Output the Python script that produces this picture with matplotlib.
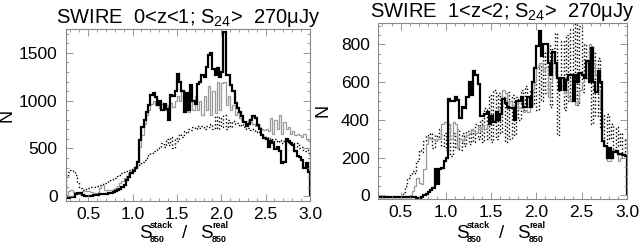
import numpy as np
import matplotlib
matplotlib.use("Agg")
import matplotlib.pyplot as plt
from matplotlib.ticker import MultipleLocator

# bins of 0.025 from 0.25 to 3.0 (110 bins)
edges = np.round(np.arange(0.25, 3.0001, 0.025), 3)

# ---- panel 1: 0<z<1 ----
z01_black = [
    -15, -15, -10, -5, 20, 35, 35, 10, 5, 5,
    5, 5, 10, 15, 15, 20, 20, 20, 25, 35,
    35, 40, 50, 60, 80, 95, 120, 170, 200, 240,
    260, 300, 360, 590, 720, 800, 880, 950, 1060, 1080,
    1040, 950, 1000, 900, 960, 910, 800, 1060, 1050, 1100,
    1280, 1200, 1100, 880, 1080, 900, 1160, 1000, 960, 1170,
    1200, 1270, 1250, 1350, 1480, 1500, 1330, 1270, 1340, 1250,
    1300, 1720, 1270, 1270, 1160, 1100, 980, 920, 880, 840,
    780, 740, 760, 800, 840, 820, 750, 700, 640, 610,
    600, 510, 580, 560, 490, 520, 470, 350, 360, 600,
    580, 560, 540, 470, 420, 410, 380, 300, 350, 250,
]
z01_gray = [
    15, 50, 70, 40, 30, 20, 20, 50, 55, 50,
    50, 40, 35, 35, 35, 90, 120, 70, 70, 70,
    70, 80, 90, 105, 140, 160, 190, 210, 240, 260,
    270, 320, 370, 520, 640, 760, 850, 900, 960, 1000,
    950, 970, 920, 960, 900, 950, 880, 980, 930, 1000,
    1050, 1000, 1100, 950, 1050, 880, 1000, 900, 1050, 900,
    1000, 850, 1050, 900, 1150, 850, 1100, 870, 1200, 900,
    1180, 1200, 950, 1050, 900, 950, 850, 880, 820, 800,
    780, 760, 800, 780, 760, 740, 760, 720, 700, 690,
    700, 680, 820, 650, 800, 700, 850, 650, 780, 700,
    720, 650, 680, 640, 650, 640, 620, 650, 600, 580,
]
z01_dot = [
    200, 250, 270, 260, 220, 150, 90, 70, 80, 85,
    90, 95, 100, 105, 110, 120, 130, 140, 150, 160,
    170, 180, 190, 210, 220, 240, 250, 260, 270, 290,
    300, 310, 330, 340, 360, 380, 400, 430, 450, 470,
    480, 500, 510, 560, 520, 600, 540, 620, 500, 610,
    580, 650, 620, 680, 660, 700, 690, 720, 700, 730,
    710, 730, 700, 740, 720, 760, 700, 840, 700, 830,
    720, 850, 700, 800, 720, 790, 760, 770, 740, 760,
    720, 700, 710, 690, 700, 670, 680, 650, 640, 620,
    620, 600, 610, 580, 600, 570, 590, 560, 580, 560,
    570, 540, 560, 520, 560, 500, 520, 470, 500, 450,
]

# ---- panel 2: 1<z<2 ----
z12_black = [
    -12, -12, -12, -12, -12, -12, -12, -12, -12, -12,
    -12, -12, -12, -10, -10, -10, -8, -15, -20, -10,
    0, 5, 15, 30, 40, 140, 60, 140, 145, 180,
    200, 510, 500, 500, 520, 505, 410, 470, 460, 520,
    600, 530, 660, 640, 590, 420, 420, 430, 440, 380,
    420, 390, 440, 400, 430, 510, 490, 470, 465, 460,
    400, 500, 500, 520, 470, 470, 520, 470, 600, 675,
    790, 870, 740, 800, 800, 700, 640, 760, 700, 620,
    560, 620, 560, 612, 640, 640, 500, 640, 600, 650,
    640, 620, 710, 600, 780, 600, 550, 660, 600, 290,
    260, 200, 250, 200, 230, 235, 220, 220, 215, 210,
]
z12_gray = [
    -12, -12, -12, -12, -12, -12, -12, -12, -12, -12,
    -12, -12, -10, -10, 0, 20, 50, 90, 65, 60,
    140, 270, 310, 300, 300, 290, 300, 300, 380, 390,
    390, 380, 300, 390, 380, 250, 300, 290, 310, 320,
    330, 350, 340, 330, 360, 340, 370, 350, 380, 390,
    390, 400, 420, 460, 440, 560, 540, 480, 500, 470,
    480, 500, 460, 470, 440, 450, 440, 470, 560, 600,
    680, 700, 700, 660, 680, 520, 600, 700, 640, 620,
    560, 580, 540, 560, 520, 500, 560, 480, 500, 560,
    600, 640, 700, 800, 790, 700, 640, 560, 460, 290,
    260, 180, 180, 200, 240, 230, 180, 200, 220, 220,
]
z12_dot = [
    -12, -12, -12, -12, -12, -12, -12, -12, -12, -12,
    -8, 15, 50, 90, 110, 130, 120, 180, 240, 230,
    290, 320, 300, 330, 250, 320, 300, 350, 260, 330,
    240, 380, 210, 330, 250, 350, 240, 330, 260, 340,
    270, 350, 280, 380, 300, 400, 280, 460, 300, 530,
    280, 560, 300, 540, 330, 520, 280, 550, 300, 530,
    320, 520, 400, 560, 450, 580, 470, 560, 480, 600,
    450, 700, 500, 760, 540, 800, 470, 780, 860, 320,
    560, 820, 450, 850, 500, 880, 560, 940, 480, 900,
    550, 800, 620, 780, 380, 760, 420, 730, 360, 430,
    260, 430, 300, 380, 240, 360, 260, 330, 220, 300,
]

titles = [r"SWIRE  0<z<1; S$_{24}$>  270$\mu$Jy", r"SWIRE  1<z<2; S$_{24}$>  270$\mu$Jy"]

plt.rcParams['font.family'] = ['Liberation Sans', 'DejaVu Sans']
plt.rcParams['mathtext.fontset'] = 'custom'
plt.rcParams['mathtext.rm'] = 'Liberation Sans'
plt.rcParams['mathtext.it'] = 'Liberation Sans'
plt.rcParams['mathtext.bf'] = 'Liberation Sans:bold'

W, H = 639, 245
fig = plt.figure(figsize=(W / 100, H / 100), dpi=100)
ax1 = fig.add_axes([0.1033, 0.1796, 0.3818, 0.702])
ax2 = fig.add_axes([0.5915, 0.1878, 0.3897, 0.7195])

panels = [
    (ax1, z01_black, z01_gray, z01_dot, (-50, 1750), 500, 100, -0.205, 188),
    (ax2, z12_black, z12_gray, z12_dot, (-20, 915), 200, 50, -0.185, 505),
]


def ftext(x, y, s, **kw):
    # place text by pixel position (from top-left)
    fig.text(x / W, 1 - y / H, s, **kw)


for i, (ax, blk, gry, dot, ylim, major, minor, ylab_x, xc) in enumerate(panels):
    ax.stairs(dot, edges, color='black', lw=1.0, linestyle=':')
    ax.stairs(gry, edges, color='#9a9a9a', lw=0.9)
    ax.stairs(blk, edges, color='black', lw=1.6)
    ax.set_xlim(0.25, 3.0)
    ax.set_ylim(*ylim)
    ax.xaxis.set_major_locator(MultipleLocator(0.5))
    ax.xaxis.set_minor_locator(MultipleLocator(0.1))
    ax.yaxis.set_major_locator(MultipleLocator(major))
    ax.yaxis.set_minor_locator(MultipleLocator(minor))
    ax.tick_params(which='both', direction='in', top=True, right=True,
                   color='#888888', labelsize=12.5)
    ax.tick_params(which='major', length=5, width=0.6, pad=6)
    ax.tick_params(axis='x', which='major', pad=4)
    ax.tick_params(which='minor', length=2.5, width=0.6)
    for sp in ax.spines.values():
        sp.set_color('#888888')
        sp.set_linewidth(0.8)
    ax.set_title(titles[i], fontsize=14.5, pad=2)
    ax.set_ylabel('N', fontsize=13)
    ax.yaxis.set_label_coords(ylab_x, 0.5)

    # x label  S^stack_850 / S^real_850  built from pieces
    big = dict(fontsize=13.5, ha='left', va='baseline')
    small = dict(fontsize=6.5, fontweight='bold', ha='left', va='center')
    ftext(xc - 49, 238, 'S', **big)
    ftext(xc - 38, 225, 'stack', **small)
    ftext(xc - 38, 239, '850', **small)
    ftext(xc - 3, 238, '/', fontsize=13.5, ha='center', va='baseline')
    ftext(xc + 12, 238, 'S', **big)
    ftext(xc + 24, 225, 'real', **small)
    ftext(xc + 24, 239, '850', **small)

fig.savefig('out.png', dpi=100)
